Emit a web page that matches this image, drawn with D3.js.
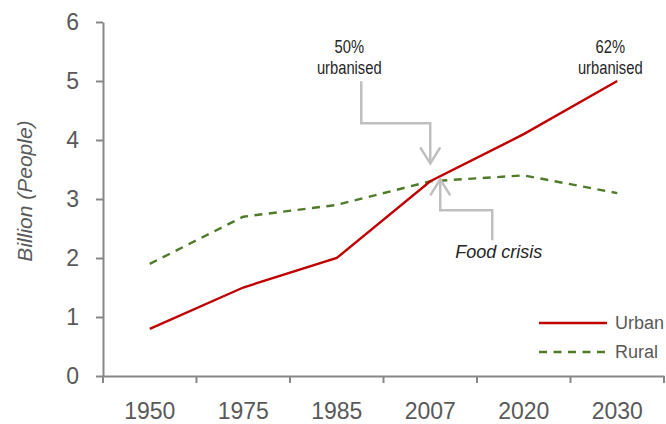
<!DOCTYPE html>
<html>
<head>
<meta charset="utf-8">
<script src="https://cdn.jsdelivr.net/npm/d3@7"></script>
<style>
  body { margin: 0; background: #fff; }
  text { font-family: Arial, "Liberation Sans", sans-serif; }
</style>
</head>
<body>
<div id="chart"></div>
<script>
const years = ['1950', '1975', '1985', '2007', '2020', '2030'];
const urban = [0.8, 1.5, 2.0, 3.3, 4.1, 5.0];
const rural = [1.9, 2.7, 2.9, 3.3, 3.4, 3.1];
const yTicks = [0, 1, 2, 3, 4, 5, 6];

const width = 666;
const height = 424;
const margin = { top: 22, right: 2, bottom: 48, left: 103 };

const svg = d3.select('#chart')
  .append('svg')
  .attr('width', width)
  .attr('height', height);

const x = d3.scaleBand()
  .domain(years)
  .range([margin.left, width - margin.right]);

const y = d3.scaleLinear()
  .domain([0, 6])
  .range([height - margin.bottom, margin.top]);

const cx = (yr) => x(yr) + x.bandwidth() / 2;
const axisColor = '#878787';
const labelColor = '#595959';

// Y axis
const yAxis = svg.append('g')
  .attr('transform', `translate(${margin.left},0)`)
  .call(d3.axisLeft(y).tickValues(yTicks).tickFormat(d3.format('d'))
    .tickSize(7).tickPadding(17).tickSizeOuter(0));
yAxis.select('.domain').attr('stroke', axisColor).attr('stroke-width', 2);
yAxis.selectAll('.tick line').attr('stroke', axisColor).attr('stroke-width', 2);
yAxis.selectAll('text')
  .attr('fill', labelColor)
  .style('font-family', 'Arial, "Liberation Sans", sans-serif')
  .style('font-size', '23px');

// X axis
const xAxis = svg.append('g')
  .attr('transform', `translate(0,${y(0)})`)
  .call(d3.axisBottom(x).tickSize(0).tickSizeOuter(0));
xAxis.select('.domain').attr('stroke', axisColor).attr('stroke-width', 2);
xAxis.selectAll('text')
  .attr('y', 43)
  .attr('dy', 0)
  .attr('fill', labelColor)
  .style('font-family', 'Arial, "Liberation Sans", sans-serif')
  .style('font-size', '23px');

// x category boundary ticks
const bounds = years.map((d) => x(d)).concat([x(years[years.length - 1]) + x.bandwidth()]);
svg.append('g')
  .selectAll('line')
  .data(bounds)
  .enter()
  .append('line')
  .attr('x1', (d) => d)
  .attr('x2', (d) => d)
  .attr('y1', y(0))
  .attr('y2', y(0) + 7)
  .attr('stroke', axisColor)
  .attr('stroke-width', 2);

// Y title
svg.append('text')
  .attr('transform', `translate(32,${(y(0) + y(6)) / 2 - 8}) rotate(-90)`)
  .attr('text-anchor', 'middle')
  .attr('fill', labelColor)
  .style('font-size', '21px')
  .style('font-style', 'italic')
  .text('Billion (People)');

// Lines
const line = d3.line()
  .x((d, i) => cx(years[i]))
  .y((d) => y(d));

svg.append('path')
  .datum(rural)
  .attr('fill', 'none')
  .attr('stroke', '#4f7a28')
  .attr('stroke-width', 2.4)
  .attr('stroke-dasharray', '8,6.5')
  .attr('d', line);

svg.append('path')
  .datum(urban)
  .attr('fill', 'none')
  .attr('stroke', '#c00000')
  .attr('stroke-width', 2.4)
  .attr('d', line);

// Annotations
const arrowColor = '#bfbfbf';
const px = cx('2007');
const py = y(urban[3]);

// arrow from "50% urbanised"
svg.append('path')
  .attr('fill', 'none')
  .attr('stroke', arrowColor)
  .attr('stroke-width', 2.5)
  .attr('d', `M${px - 69},${py - 100} V${py - 58} H${px} V${py - 18}`);
svg.append('path')
  .attr('fill', 'none')
  .attr('stroke', arrowColor)
  .attr('stroke-width', 2.5)
  .attr('d', `M${px - 10},${py - 34} L${px},${py - 18} L${px + 10},${py - 34}`);

// arrow from "Food crisis"
svg.append('path')
  .attr('fill', 'none')
  .attr('stroke', arrowColor)
  .attr('stroke-width', 2.5)
  .attr('d', `M${px + 62},${py + 59} V${py + 29} H${px + 10} V${py - 2}`);
svg.append('path')
  .attr('fill', 'none')
  .attr('stroke', arrowColor)
  .attr('stroke-width', 2.5)
  .attr('d', `M${px},${py + 14} L${px + 10},${py - 2} L${px + 20},${py + 14}`);

// narrow labels: Arial squeezed horizontally
const narrowNote = (tx, ty, label) => {
  svg.append('text')
    .attr('transform', `translate(${tx},${ty}) scale(0.82,1)`)
    .attr('text-anchor', 'middle')
    .attr('fill', '#262626')
    .style('font-size', '18px')
    .text(label);
};
narrowNote(px - 81, 53, '50%');
narrowNote(px - 81, 74, 'urbanised');
narrowNote(cx('2030') - 7, 53, '62%');
narrowNote(cx('2030') - 7, 74, 'urbanised');

svg.append('text')
  .attr('x', px + 25)
  .attr('y', 258)
  .attr('fill', '#262626')
  .style('font-size', '18px')
  .style('font-style', 'italic')
  .text('Food crisis');

// Legend
const legend = [
  { name: 'Urban', color: '#c00000', dash: null },
  { name: 'Rural', color: '#4f7a28', dash: '8,6.5' },
];
const lg = svg.append('g').attr('transform', 'translate(539,323)');
legend.forEach((d, i) => {
  lg.append('line')
    .attr('x1', 0)
    .attr('x2', 68)
    .attr('y1', i * 29)
    .attr('y2', i * 29)
    .attr('stroke', d.color)
    .attr('stroke-width', 2.4)
    .attr('stroke-dasharray', d.dash);
  lg.append('text')
    .attr('x', 76)
    .attr('y', i * 29 + 6)
    .attr('fill', labelColor)
    .style('font-size', '18px')
    .text(d.name);
});
</script>
</body>
</html>
